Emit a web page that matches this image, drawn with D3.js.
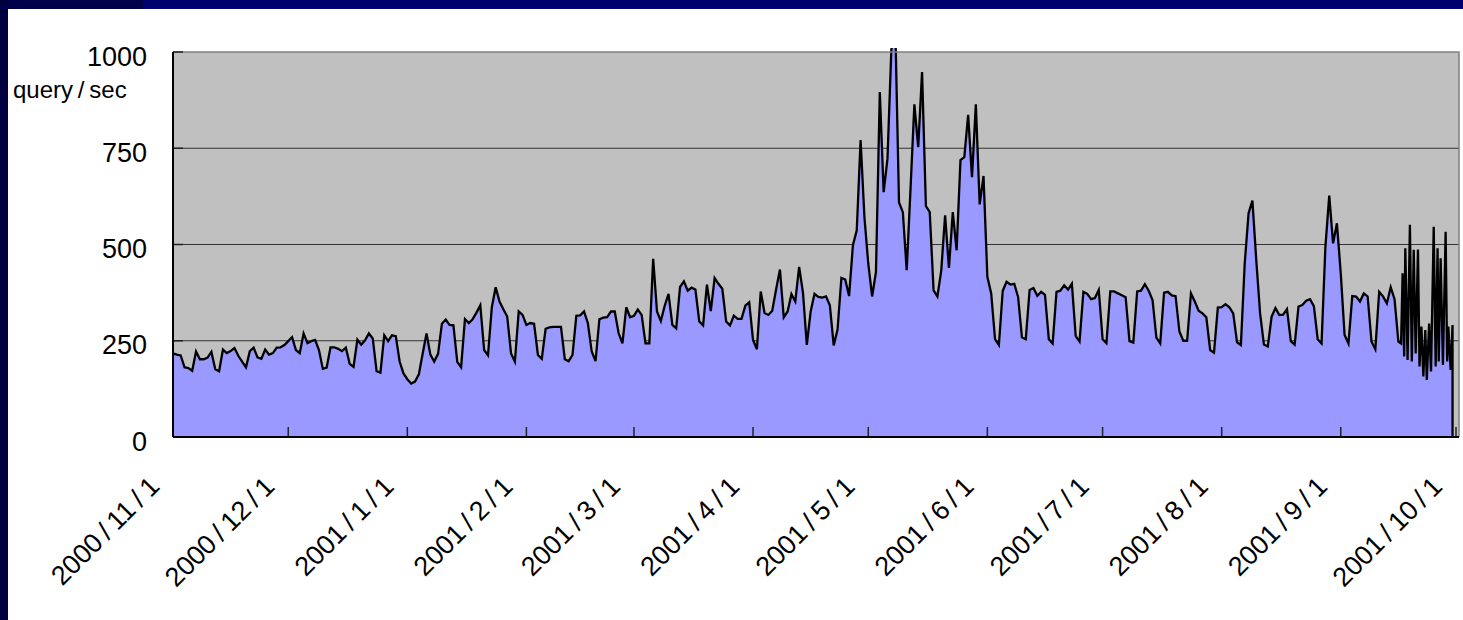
<!DOCTYPE html>
<html>
<head>
<meta charset="utf-8">
<script src="https://cdn.jsdelivr.net/npm/d3@7"></script>
<style>
  html, body { margin: 0; padding: 0; background: #fff; overflow: hidden; }
  svg { display: block; font-family: "Liberation Sans", Arial, sans-serif; }
</style>
</head>
<body>
<div id="chart"></div>
<script>
// daily query rate, one value per day from startDate
var startDate = "2000-11-01";
var dailyQps = [
  217,214,212,181,179,172,222,202,202,206,
  221,176,171,227,218,223,231,211,196,181,
  223,232,207,203,227,214,218,232,233,239,
  249,259,226,218,269,244,249,252,226,177,
  180,233,233,229,223,232,190,182,253,240,
  251,269,256,171,167,264,249,264,262,196,
  165,150,139,144,163,217,269,214,196,216,
  294,305,291,290,195,181,306,296,306,323,
  342,226,212,337,389,352,332,313,217,196,
  326,317,291,296,294,213,203,281,285,286,
  286,286,202,197,213,315,316,326,296,222,
  197,306,310,311,326,326,270,243,337,311,
  315,331,317,243,243,463,326,301,341,372,
  291,282,390,404,380,388,383,300,290,396,
  327,413,398,385,300,290,315,307,307,341,
  350,252,228,378,322,317,328,383,435,311,
  326,371,352,442,375,239,326,372,364,362,
  365,342,238,279,413,409,366,498,537,771,
  571,450,365,429,896,636,723,1005,1080,609,
  584,433,645,864,753,948,600,584,381,365,
  433,576,439,584,485,719,727,837,675,864,
  604,678,416,373,254,239,380,403,396,398,
  364,259,254,382,387,367,377,369,254,243,
  377,380,394,383,398,262,248,377,372,358,
  361,382,254,244,378,378,373,368,363,249,
  245,378,380,397,380,356,258,243,375,377,
  368,366,274,250,250,373,352,328,321,311,
  226,219,336,337,345,337,321,246,239,451,
  581,614,460,321,240,235,313,335,317,318,
  332,249,240,339,343,354,358,340,254,243,
  494,627,503,555,425,265,243,366,365,352,
  373,365,248,228,377,365,347,389,358,248
];

// last two weeks sampled more often (day offsets from startDate)
var burstDay = [319.7,320.1,320.5,320.8,321.4,322.0,322.5,323.0,323.5,324.1,
  324.5,325.0,325.5,326.0,326.4,327.0,327.5,328.2,328.7,329.2,
  329.5,330.0,330.6,331.3,331.7,332.0,332.6,333.1,333.1];
var burstQps = [243,425,209,490,200,551,196,486,217,487,
  183,287,157,278,148,295,170,546,183,490,
  196,464,187,533,196,287,174,291,0];

var yTicks = [0, 250, 500, 750, 1000];
var monthTicks = ["2000-11-01","2000-12-01","2001-01-01","2001-02-01","2001-03-01","2001-04-01",
  "2001-05-01","2001-06-01","2001-07-01","2001-08-01","2001-09-01","2001-10-01"];
var yLabel = "query/sec";

var W = 1463, H = 620;
var plot = { left: 173, right: 1459, top: 52, bottom: 437 };

var svg = d3.select("#chart").append("svg")
  .attr("width", W)
  .attr("height", H);

// slide frame
svg.append("rect").attr("x", 0).attr("y", 0).attr("width", W).attr("height", H).attr("fill", "#fff");
svg.append("rect").attr("x", 0).attr("y", 0).attr("width", W).attr("height", 9).attr("fill", "#00006e");
svg.append("rect").attr("x", 0).attr("y", 0).attr("width", 143).attr("height", 9).attr("fill", "#00004a");
svg.append("rect").attr("x", 0).attr("y", 0).attr("width", 8).attr("height", H).attr("fill", "#000040");

var t0 = d3.isoParse(startDate + "T00:00:00Z");
var DAY = 864e5;

var points = dailyQps.map(function (v, i) { return { t: new Date(t0.getTime() + i * DAY), v: v }; });
burstDay.forEach(function (d, i) {
  points.push({ t: new Date(t0.getTime() + d * DAY), v: burstQps[i] });
});

var x = d3.scaleUtc()
  .domain([t0, d3.isoParse(monthTicks[monthTicks.length - 1] + "T00:00:00Z")])
  .range([plot.left, 1456]);

var y = d3.scaleLinear()
  .domain([0, 1000])
  .range([plot.bottom, plot.top]);

// plot background
svg.append("rect")
  .attr("x", plot.left).attr("y", plot.top)
  .attr("width", plot.right - plot.left).attr("height", plot.bottom - plot.top)
  .attr("fill", "#c0c0c0");

// gridlines
svg.append("g").selectAll("line")
  .data(yTicks.filter(function (d) { return d > 0 && d < 1000; }))
  .enter().append("line")
  .attr("x1", plot.left).attr("x2", plot.right)
  .attr("y1", function (d) { return y(d); }).attr("y2", function (d) { return y(d); })
  .attr("stroke", "#333").attr("stroke-width", 1);

svg.append("clipPath").attr("id", "clip")
  .append("rect")
  .attr("x", plot.left).attr("y", plot.top - 4)
  .attr("width", plot.right - plot.left).attr("height", plot.bottom - plot.top + 4);

var area = d3.area()
  .x(function (d) { return x(d.t); })
  .y0(y(0))
  .y1(function (d) { return y(d.v); });

var line = d3.line()
  .x(function (d) { return x(d.t); })
  .y(function (d) { return y(d.v); });

var g = svg.append("g").attr("clip-path", "url(#clip)");
g.append("path").datum(points).attr("d", area).attr("fill", "#9999ff");
g.append("path").datum(points).attr("d", line)
  .attr("fill", "none").attr("stroke", "#000").attr("stroke-width", 2.3);

// plot border top/right
svg.append("path")
  .attr("d", "M" + plot.left + "," + plot.top + "H" + plot.right + "V" + plot.bottom)
  .attr("fill", "none").attr("stroke", "#808080").attr("stroke-width", 1.5);

// y axis ticks (inside) + labels
svg.append("g").selectAll("line")
  .data(yTicks)
  .enter().append("line")
  .attr("x1", plot.left).attr("x2", plot.left + 10)
  .attr("y1", function (d) { return y(d); }).attr("y2", function (d) { return y(d); })
  .attr("stroke", "#222").attr("stroke-width", 1.5);

svg.append("g").selectAll("text")
  .data(yTicks)
  .enter().append("text")
  .attr("x", 147)
  .attr("y", function (d) { return y(d); })
  .attr("dy", "0.5em")
  .attr("text-anchor", "end")
  .attr("font-size", 27)
  .attr("fill", "#000")
  .text(function (d) { return d; });

svg.append("text")
  .attr("x", 13).attr("y", 98)
  .attr("font-size", 24)
  .attr("fill", "#000")
  .text(yLabel.replace("/", "\u2009/\u2009"));

// x axis ticks (inside) + rotated labels
var fmt = d3.utcFormat("%Y/%-m/%-d");
var months = monthTicks.map(function (s) { return d3.isoParse(s + "T00:00:00Z"); });

svg.append("g").selectAll("line")
  .data(months)
  .enter().append("line")
  .attr("x1", function (d) { return x(d); }).attr("x2", function (d) { return x(d); })
  .attr("y1", plot.bottom - 10).attr("y2", plot.bottom)
  .attr("stroke", "#222").attr("stroke-width", 1.5);

svg.append("g").selectAll("text")
  .data(months)
  .enter().append("text")
  .attr("transform", function (d) { return "translate(" + (x(d) - 12) + ",488) rotate(-45)"; })
  .attr("text-anchor", "end")
  .attr("font-size", 27)
  .attr("fill", "#000")
  .text(function (d) { return fmt(d).replace(/\//g, "\u2009/\u2009"); });

// axes lines
svg.append("line")
  .attr("x1", plot.left).attr("x2", plot.left)
  .attr("y1", plot.top).attr("y2", plot.bottom)
  .attr("stroke", "#000").attr("stroke-width", 2);
svg.append("line")
  .attr("x1", plot.left).attr("x2", plot.right)
  .attr("y1", plot.bottom).attr("y2", plot.bottom)
  .attr("stroke", "#000").attr("stroke-width", 2);
</script>
</body>
</html>
